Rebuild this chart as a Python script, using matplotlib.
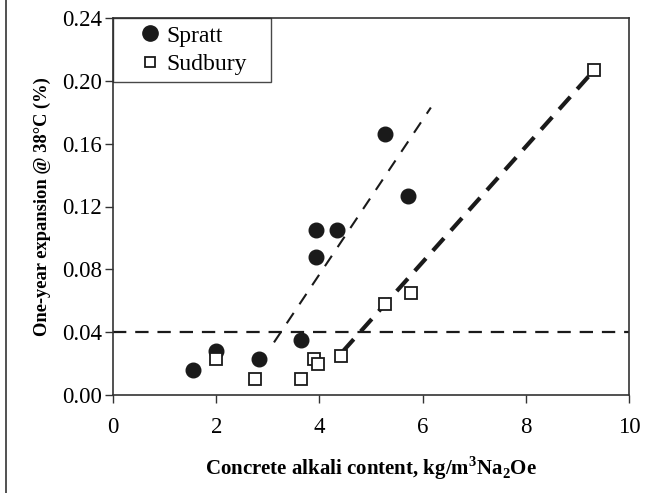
import matplotlib
matplotlib.use("Agg")
import matplotlib.pyplot as plt
from matplotlib.lines import Line2D

plt.rcParams['font.family'] = ['Liberation Serif', 'DejaVu Serif']
plt.rcParams['mathtext.fontset'] = 'custom'
plt.rcParams['mathtext.rm'] = 'Liberation Serif:bold'
plt.rcParams['mathtext.bf'] = 'Liberation Serif:bold'

spratt_x = [1.56, 2.0, 2.83, 3.64, 3.93, 3.93, 4.35, 5.27, 5.72]
spratt_y = [0.016, 0.028, 0.023, 0.035, 0.105, 0.088, 0.105, 0.166, 0.127]
sudbury_x = [2.0, 2.76, 3.64, 3.89, 3.98, 4.41, 5.27, 5.78, 9.33]
sudbury_y = [0.023, 0.010, 0.010, 0.023, 0.020, 0.025, 0.058, 0.065, 0.207]
spratt_fit_x = [3.12, 6.16]
spratt_fit_y = [0.0335, 0.183]
sudbury_fit_x = [4.45, 9.33]
sudbury_fit_y = [0.0276, 0.207]
threshold = 0.04
xticks = [0, 2, 4, 6, 8, 10]
yticks = [0.00, 0.04, 0.08, 0.12, 0.16, 0.20, 0.24]

fig = plt.figure(figsize=(6.65, 4.93), dpi=100)
ax = fig.add_axes([113/665, 1-395/493, (629-113)/665, (395-18)/493])

ax.axhline(threshold, color='#1a1a1a', lw=1.6, ls=(0, (6, 4)), zorder=1)
ax.plot(spratt_fit_x, spratt_fit_y, color='#1a1a1a', lw=1.5, ls=(0, (6, 5)), zorder=1)
ax.plot(sudbury_fit_x, sudbury_fit_y, color='#1a1a1a', lw=3.0, ls=(0, (4, 2.5)), zorder=1)

ax.plot(spratt_x, spratt_y, 'o', color='#1a1a1a', ms=10.5, ls='none', label='Spratt', zorder=3)
ax.plot(sudbury_x, sudbury_y, 's', mfc='white', mec='#1a1a1a', mew=1.3, ms=9, ls='none',
        label='Sudbury', zorder=3)

ax.set_xlim(0, 10)
ax.set_ylim(0, 0.24)
ax.set_xticks(xticks)
ax.set_xticklabels([str(v) for v in xticks])
ax.set_yticks(yticks)
ax.set_yticklabels([f"{v:.2f}" for v in yticks])
ax.tick_params(axis='both', direction='out', length=6, width=1, labelsize=16.5, color='#333333')
ax.tick_params(axis='x', pad=10)
ax.tick_params(axis='y', pad=2)
for s in ax.spines.values():
    s.set_color('#333333')
    s.set_linewidth(1.2)

ax.set_xlabel(r"Concrete alkali content, kg/m$^{3}$Na$_{2}$Oe",
              fontsize=15, fontweight='bold', labelpad=12)
ax.set_ylabel("One-year expansion @ 38°C (%)", fontsize=13.3, fontweight='bold', labelpad=8)

leg = ax.legend(loc='upper left', bbox_to_anchor=(0, 0, 158/516, 1), mode='expand',
                fontsize=17, frameon=True, fancybox=False,
                borderaxespad=0, handletextpad=-0.55, borderpad=0.3, handlelength=2.5,
                labelspacing=0.3)
leg.get_frame().set_edgecolor('#1a1a1a')
leg.get_frame().set_linewidth(1.0)
hs = leg.legend_handles
hs[0].set_markersize(11)
hs[1].set_markersize(7.5)

fig.add_artist(Line2D([6/665, 6/665], [0, 1], transform=fig.transFigure,
                      color='#333333', lw=1.2))

fig.savefig("out.png", dpi=100)
